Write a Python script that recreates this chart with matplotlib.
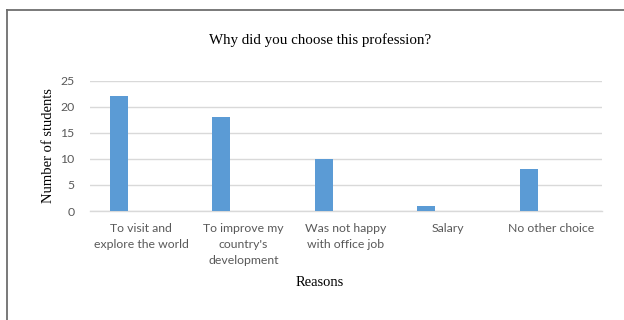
import matplotlib
matplotlib.use("Agg")
import matplotlib.pyplot as plt
from matplotlib.lines import Line2D

categories = [
    "To visit and\nexplore the world",
    "To improve my\ncountry's\ndevelopment",
    "Was not happy\nwith office job",
    "Salary",
    "No other choice",
]
students = [22, 18, 10, 1, 8]
y_ticks = [0, 5, 10, 15, 20, 25]

title = "Why did you choose this profession?"
x_label = "Reasons"
y_label = "Number of students"

bar_color = "#5b9bd5"
grid_color = "#d9d9d9"
tick_color = "#595959"
serif = ["Liberation Serif", "DejaVu Serif"]
sans = ["Lato", "DejaVu Sans"]

W, H = 624, 320
fig = plt.figure(figsize=(W / 100, H / 100), dpi=100)

# chart frame running off the right and bottom edges
fig.add_artist(Line2D([6.5 / W, 6.5 / W], [0, 1 - 9.5 / H], transform=fig.transFigure,
                      color="#6e6e6e", lw=1.3))
fig.add_artist(Line2D([6.5 / W, 1.0], [1 - 9.5 / H, 1 - 9.5 / H], transform=fig.transFigure,
                      color="#6e6e6e", lw=1.3))

left, right = 90 / W, 602 / W
bottom, top = 1 - 211 / H, 1 - 80.5 / H
ax = fig.add_axes([left, bottom, right - left, top - bottom])

xs = range(len(categories))
ax.bar([x - 0.217 for x in xs], students, width=0.176, color=bar_color, zorder=3)

ax.set_xlim(-0.5, len(categories) - 0.5)
ax.set_ylim(0, 25)
ax.set_yticks(y_ticks)
ax.set_xticks(list(xs))
ax.set_xticklabels(categories, family=sans, fontsize=8.8, color=tick_color,
                   linespacing=1.5, va="top")
for lbl in ax.get_yticklabels():
    lbl.set_family(sans)
    lbl.set_fontsize(8.8)
    lbl.set_color(tick_color)

ax.yaxis.grid(True, color=grid_color, lw=1.0, zorder=0)
ax.tick_params(axis="both", length=0)
ax.tick_params(axis="x", pad=9)
ax.tick_params(axis="y", pad=11)
for side in ("top", "right", "left"):
    ax.spines[side].set_visible(False)
ax.spines["bottom"].set_color(grid_color)
ax.spines["bottom"].set_linewidth(1.0)

fig.text(320 / W, 1 - 40 / H, title, family=serif, fontsize=10.8, ha="center", va="center")
fig.text(320 / W, 1 - 283 / H, x_label, family=serif, fontsize=10.5, ha="center", va="center")
fig.text(49 / W, 1 - 146 / H, y_label, family=serif, fontsize=10.5, ha="center", va="center",
         rotation=90)

fig.savefig("out.png", dpi=100, facecolor="white")
